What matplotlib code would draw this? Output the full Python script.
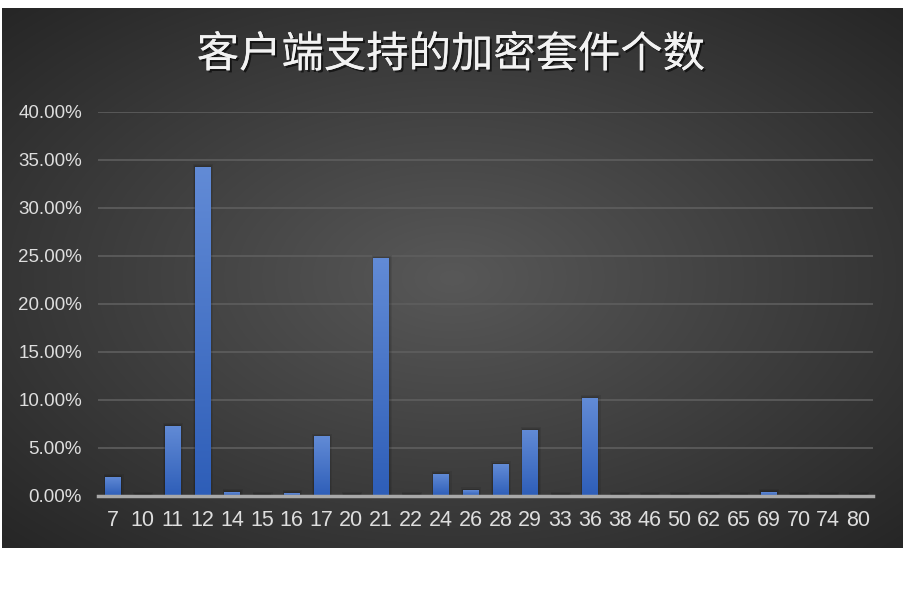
import numpy as np
import matplotlib
matplotlib.use("Agg")
import matplotlib.pyplot as plt
from matplotlib.ticker import FuncFormatter
import matplotlib.patheffects as pe

categories = ["7", "10", "11", "12", "14", "15", "16", "17", "20", "21", "22", "24", "26",
              "28", "29", "33", "36", "38", "46", "50", "62", "65", "69", "70", "74", "80"]
values = [2.0, 0.1, 7.3, 34.3, 0.4, 0.1, 0.3, 6.2, 0.1, 24.8, 0.1, 2.3, 0.6,
          3.3, 6.9, 0.1, 10.2, 0.1, 0.1, 0.1, 0.1, 0.1, 0.4, 0.1, 0.1, 0.1]
y_ticks = [0, 5, 10, 15, 20, 25, 30, 35, 40]
title = "客户端支持的加密套件个数"

W, H = 905, 596
fig = plt.figure(figsize=(W / 100, H / 100), dpi=100)
fig.patch.set_facecolor("white")

# dark radial-gradient background panel
bg = fig.add_axes([2 / W, 1 - 548 / H, 900 / W, 540 / H])
bg.set_axis_off()
yy, xx = np.mgrid[0:1:300j, 0:1:500j]
r = np.sqrt(((xx - 0.5) / 0.75) ** 2 + ((yy - 0.5) / 0.75) ** 2)
r = np.clip(r / 0.94, 0, 1)
c0 = np.array([0x58, 0x58, 0x58]) / 255
c1 = np.array([0x26, 0x26, 0x26]) / 255
img = c0[None, None, :] * (1 - r[..., None]) + c1[None, None, :] * r[..., None]
bg.imshow(img, aspect="auto", extent=[0, 1, 0, 1], interpolation="bilinear")
bg.set_xlim(0, 1)
bg.set_ylim(0, 1)

# title
fig.text(451 / W, 1 - 55 / H, title, ha="center", va="center", color="#f2f2f2",
         fontsize=30.5, fontweight="medium", family=["Noto Sans CJK SC", "DejaVu Sans"],
         path_effects=[pe.withSimplePatchShadow(offset=(1.5, -1.5), shadow_rgbFace="black", alpha=0.6),
                       pe.Normal()])

ax = fig.add_axes([98 / W, 1 - 496 / H, 775 / W, 384 / H])
ax.patch.set_alpha(0)
x = np.arange(len(categories))
bars = ax.bar(x, values, width=0.52, color="#4a78cc", zorder=3)
ax.set_xlim(-0.5, len(categories) - 0.5)
ax.set_ylim(0, 40)

# gradient fill on each bar
grad = np.linspace(0, 1, 100)[:, None]
ctop = np.array([0x62, 0x8b, 0xd6]) / 255
cbot = np.array([0x2e, 0x5e, 0xb8]) / 255
gimg = ctop[None, None, :] * (1 - grad[..., None]) + cbot[None, None, :] * grad[..., None]
for b in bars:
    x0, y0 = b.get_x(), b.get_y()
    w, h = b.get_width(), b.get_height()
    # soft shadow
    for k, a in [(0.10, 0.08), (0.06, 0.08), (0.03, 0.08)]:
        ax.add_patch(plt.Rectangle((x0 - k * 0.5, y0), w + k * 1.5, h + k * 3, color="black",
                                   alpha=a, zorder=2, lw=0))
    im = ax.imshow(gimg, extent=[x0, x0 + w, y0, y0 + h], aspect="auto", zorder=4,
                   interpolation="bilinear")
    im.set_clip_path(b)

ax.set_yticks(y_ticks)
ax.yaxis.set_major_formatter(FuncFormatter(lambda v, p: f"{v:.2f}%"))
ax.set_xticks(x)
ax.set_xticklabels(categories)
ax.grid(axis="y", color="#5e5e5e", lw=1.2, zorder=0)
for s in ["top", "right", "left"]:
    ax.spines[s].set_visible(False)
ax.spines["bottom"].set_color("#a8a8a8")
ax.spines["bottom"].set_linewidth(2.5)
ax.spines["bottom"].set_zorder(5)
ax.tick_params(axis="both", length=0, colors="#dedede")
ax.tick_params(axis="y", pad=11.5, labelsize=13.5)
ax.tick_params(axis="x", pad=10, labelsize=15.5)
for lab in ax.get_yticklabels() + ax.get_xticklabels():
    lab.set_family("Liberation Sans")

fig.savefig("out.png", dpi=100)
